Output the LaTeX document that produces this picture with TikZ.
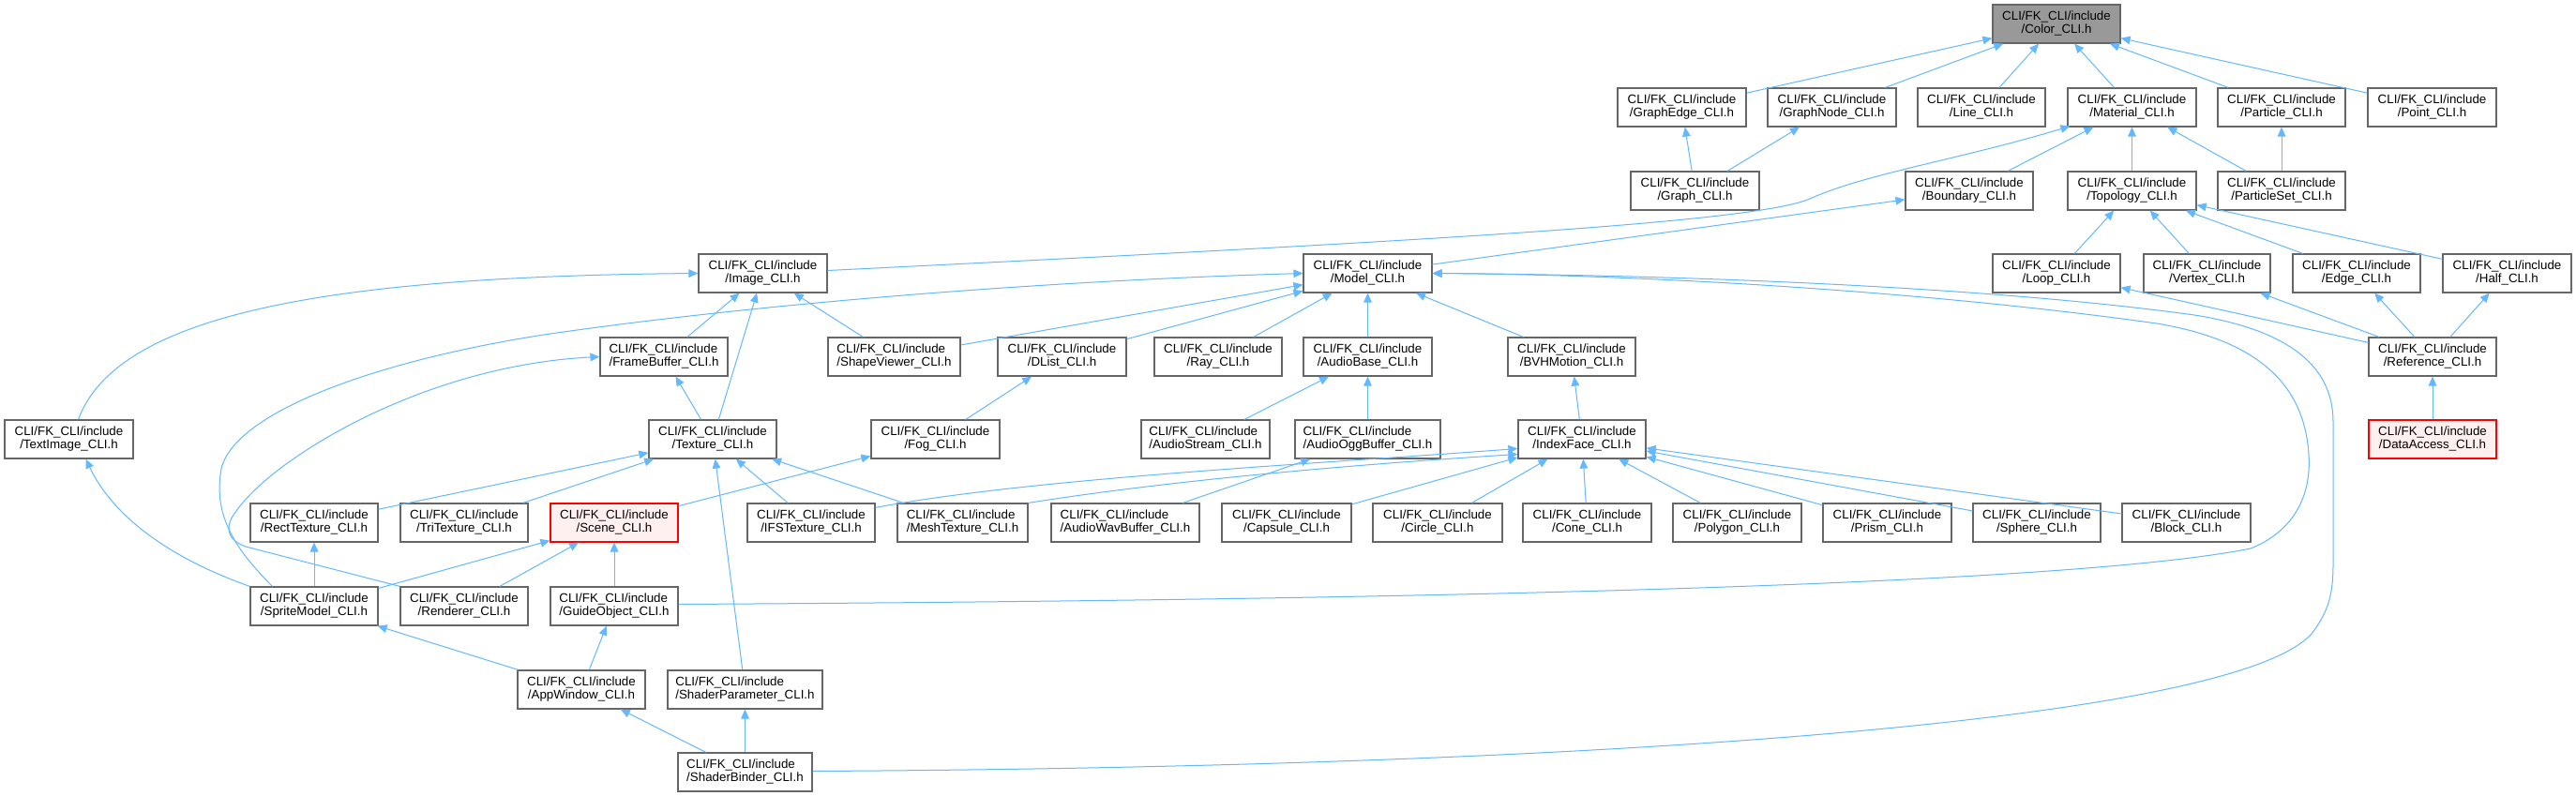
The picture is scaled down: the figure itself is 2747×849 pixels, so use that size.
\documentclass[tikz,border=0pt]{standalone}
\usepackage{fontspec}
\setmainfont{Liberation Sans}
\usetikzlibrary{arrows.meta,calc}
\definecolor{edgeblue}{HTML}{63B8FF}
\definecolor{boxgrey}{HTML}{666666}
\definecolor{rootfill}{HTML}{999999}
\definecolor{redfill}{HTML}{FFF0F0}
\newcommand\lbl[1]{\begin{tabular}{@{}l@{}}CLI/FK\_CLI/include\\\multicolumn{1}{@{}c@{}}{/#1\_CLI.h}\end{tabular}}
\newcommand\bx[7][box]{%
  \pgfmathsetmacro\bw{(#5-#3)*0.75}%
  \pgfmathsetmacro\bh{(#6-#4)*0.75}%
  \node[#1,minimum width=\bw pt,minimum height=\bh pt] (#2) at ({(#3+#5)/2},{(#4+#6)/2}) {\lbl{#7}};}
\begin{document}
\begin{tikzpicture}[x=0.75pt,y=-0.75pt,
  box/.style={draw=boxgrey,fill=white,line width=0.9pt,inner sep=0pt,font=\fontsize{10}{10.5}\selectfont},
  root/.style={box,fill=rootfill},
  redbox/.style={box,draw=red,fill=redfill},
  conn/.style={draw=edgeblue,line width=0.75pt,arrows={Triangle[length=7.5pt,width=6.5pt]-}}]
\fill[white] (0,0) rectangle (2747,849);
\useasboundingbox (0,0) rectangle (2747,849);
% nodes
\bx[root]{nColor}{2125}{5}{2261}{46}{Color}
\bx{nGraphEdge}{1725}{94}{1862}{135}{GraphEdge}
\bx{nGraphNode}{1885}{94}{2022}{135}{GraphNode}
\bx{nLine}{2045}{94}{2181}{135}{Line}
\bx{nMaterial}{2205}{94}{2342}{135}{Material}
\bx{nParticle}{2365}{94}{2501}{135}{Particle}
\bx{nPoint}{2525}{94}{2662}{135}{Point}
\bx{nGraph}{1739}{183}{1876}{224}{Graph}
\bx{nBoundary}{2032}{183}{2168}{224}{Boundary}
\bx{nTopology}{2205}{183}{2342}{224}{Topology}
\bx{nParticleSet}{2365}{183}{2501}{224}{ParticleSet}
\bx{nImage}{745}{271}{882}{312}{Image}
\bx{nModel}{1390}{271}{1527}{312}{Model}
\bx{nLoop}{2125}{271}{2261}{312}{Loop}
\bx{nVertex}{2286}{271}{2421}{312}{Vertex}
\bx{nEdge}{2445}{271}{2581}{312}{Edge}
\bx{nHalf}{2605}{271}{2742}{312}{Half}
\bx{nFrameBuffer}{640}{360}{776}{401}{FrameBuffer}
\bx{nShapeViewer}{883}{360}{1024}{401}{ShapeViewer}
\bx{nDList}{1064}{360}{1201}{401}{DList}
\bx{nRay}{1231}{360}{1367}{401}{Ray}
\bx{nAudioBase}{1390}{360}{1527}{401}{AudioBase}
\bx{nBVHMotion}{1608}{360}{1744}{401}{BVHMotion}
\bx{nReference}{2526}{360}{2662}{401}{Reference}
\bx{nTextImage}{5}{448}{142}{489}{TextImage}
\bx{nTexture}{692}{448}{828}{489}{Texture}
\bx{nFog}{929}{448}{1066}{489}{Fog}
\bx{nAudioStream}{1217}{448}{1354}{489}{AudioStream}
\bx{nAudioOggBuffer}{1381}{448}{1536}{489}{AudioOggBuffer}
\bx{nIndexFace}{1619}{448}{1755}{489}{IndexFace}
\bx[redbox]{nDataAccess}{2526}{448}{2662}{489}{DataAccess}
\bx{nRectTexture}{267}{537}{403}{578}{RectTexture}
\bx{nTriTexture}{427}{537}{563}{578}{TriTexture}
\bx[redbox]{nScene}{587}{537}{723}{578}{Scene}
\bx{nIFSTexture}{797}{537}{933}{578}{IFSTexture}
\bx{nMeshTexture}{957}{537}{1096}{578}{MeshTexture}
\bx{nAudioWavBuffer}{1121}{537}{1279}{578}{AudioWavBuffer}
\bx{nCapsule}{1303}{537}{1441}{578}{Capsule}
\bx{nCircle}{1464}{537}{1602}{578}{Circle}
\bx{nCone}{1624}{537}{1761}{578}{Cone}
\bx{nPolygon}{1784}{537}{1921}{578}{Polygon}
\bx{nPrism}{1944}{537}{2081}{578}{Prism}
\bx{nSphere}{2104}{537}{2240}{578}{Sphere}
\bx{nBlock}{2263}{537}{2400}{578}{Block}
\bx{nSpriteModel}{267}{626}{403}{667}{SpriteModel}
\bx{nRenderer}{427}{626}{563}{667}{Renderer}
\bx{nGuideObject}{587}{626}{723}{667}{GuideObject}
\bx{nAppWindow}{552}{715}{688}{756}{AppWindow}
\bx{nShaderParameter}{712}{715}{877}{756}{ShaderParameter}
\bx{nShaderBinder}{723}{803}{866}{844}{ShaderBinder}
% straight connectors (arrow at the included file)
\foreach \p/\c in {nColor/nGraphEdge, nColor/nGraphNode, nColor/nLine, nColor/nMaterial,
  nColor/nParticle, nColor/nPoint, nGraphEdge/nGraph, nGraphNode/nGraph,
  nMaterial/nBoundary, nMaterial/nTopology, nMaterial/nParticleSet, nParticle/nParticleSet,
  nTopology/nLoop, nTopology/nVertex, nTopology/nEdge, nTopology/nHalf,
  nLoop/nReference, nVertex/nReference, nEdge/nReference, nHalf/nReference,
  nReference/nDataAccess, nBoundary/nModel, nImage/nFrameBuffer, nImage/nShapeViewer,
  nImage/nTexture, nFrameBuffer/nTexture, nModel/nShapeViewer, nModel/nDList,
  nModel/nRay, nModel/nAudioBase, nModel/nBVHMotion, nDList/nFog,
  nAudioBase/nAudioStream, nAudioBase/nAudioOggBuffer, nBVHMotion/nIndexFace,
  nAudioOggBuffer/nAudioWavBuffer, nTexture/nRectTexture, nTexture/nTriTexture,
  nTexture/nIFSTexture, nTexture/nMeshTexture, nTexture/nShaderParameter, nFog/nScene,
  nRectTexture/nSpriteModel, nScene/nSpriteModel, nScene/nRenderer, nScene/nGuideObject,
  nSpriteModel/nAppWindow, nGuideObject/nAppWindow, nAppWindow/nShaderBinder,
  nShaderParameter/nShaderBinder, nIndexFace/nCapsule, nIndexFace/nCircle,
  nIndexFace/nCone, nIndexFace/nPolygon, nIndexFace/nPrism, nIndexFace/nSphere,
  nIndexFace/nBlock}
  {\draw[conn] (\p) -- (\c);}
% curved connectors
\draw[conn] ($(nMaterial.south west)+(3,-1)$) .. controls (2090,170) and (1990,185) .. (1930,212)
  .. controls (1870,238) and (1500,258) .. ($(nImage.east)+(0,-3)$);
\draw[conn] (nImage.west) .. controls (350,295) and (125,335) .. ($(nTextImage.north)+(10,0)$);
\draw[conn] (nModel.west) .. controls (1100,300) and (800,325) .. (580,357)
  .. controls (400,385) and (250,440) .. (236,500)
  .. controls (228,545) and (245,580) .. ($(nSpriteModel.north west)+(24,0)$);
\draw[conn] (nFrameBuffer.west) .. controls (450,390) and (290,490) .. (252,545)
  .. controls (240,560) and (240,575) .. (262,583) -- (nRenderer.north west);
\draw[conn] ($(nTextImage.south)+(18,0)$) .. controls (120,550) and (180,595) .. (nSpriteModel.north west);
\draw[conn] (nModel.east) .. controls (1750,293) and (2050,310) .. (2300,345)
  .. controls (2420,365) and (2458,420) .. (2462,485)
  .. controls (2465,530) and (2445,567) .. (2400,585)
  .. controls (2200,625) and (1500,640) .. ($(nGuideObject.east)+(0,-2)$);
\draw[conn] (nModel.east) .. controls (1750,293) and (2100,303) .. (2340,336)
  .. controls (2440,352) and (2488,390) .. (2488,450) -- (2488,600)
  .. controls (2488,630) and (2485,650) .. (2465,676)
  .. controls (2380,770) and (1700,818) .. ($(nShaderBinder.east)+(0,-1)$);
\draw[conn] ($(nIndexFace.west)+(0,10)$) .. controls (1400,495) and (1100,510) .. ($(nIFSTexture.north east)+(0,5)$);
\draw[conn] ($(nIndexFace.west)+(0,16)$) .. controls (1450,495) and (1250,512) .. (nMeshTexture.north east);
\end{tikzpicture}
\end{document}
